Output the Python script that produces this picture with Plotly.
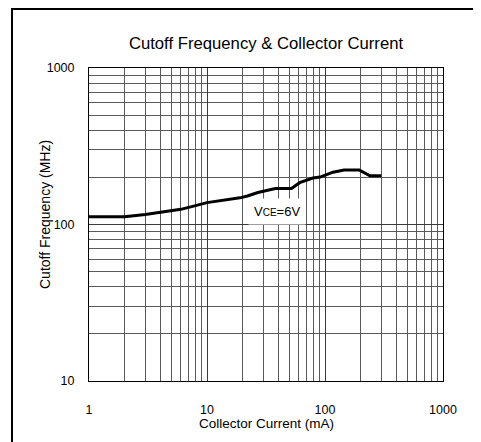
import plotly.graph_objects as go
import math

# Data
collector_current_ma = [1, 2, 3, 5, 6, 8, 10, 19, 22, 27, 38, 52, 61, 79, 91, 117, 145, 195, 240, 300]
cutoff_freq_mhz = [112, 112, 116, 122, 125, 132, 138, 148, 152, 160, 170, 170, 185, 198, 201, 216, 223, 223, 205, 205]

x_tick_vals = [1, 10, 100, 1000]
x_tick_text = ["1", "10", "100", "1000"]
y_tick_vals = [10, 100, 1000]
y_tick_text = ["10", "100", "1000"]

FONT = "Liberation Sans, Arial, sans-serif"
# page body has an 8px default margin; lay out in page pixels and shift
OFF = 8
W, H = 481 - OFF, 442 - OFF
L, R, T, B = 89 - OFF, 38, 68 - OFF, 61
PW, PH = W - L - R, H - T - B

def px2paper_x(px):
    return (px - OFF - L) / PW

def px2paper_y(py):
    return (H - B - (py - OFF)) / PH

fig = go.Figure()
fig.add_trace(go.Scatter(
    x=collector_current_ma, y=cutoff_freq_mhz, mode="lines",
    line=dict(color="black", width=3), showlegend=False, hoverinfo="x+y"))

grid_major = "#3a3a3a"
grid_minor = "#5a5a5a"

fig.update_xaxes(
    type="log", range=[0, 3], tickvals=x_tick_vals, ticktext=x_tick_text,
    showgrid=True, gridcolor=grid_major, gridwidth=1,
    minor=dict(dtick="D1", showgrid=True, gridcolor=grid_minor, gridwidth=1, ticks=""),
    ticks="", showline=True, linecolor="black", linewidth=1, mirror=True,
    tickfont=dict(family=FONT, size=12.5, color="black"), ticklabelstandoff=17,
    automargin=False)
fig.update_yaxes(
    type="log", range=[1, 3], tickvals=y_tick_vals, ticktext=y_tick_text,
    showgrid=True, gridcolor=grid_major, gridwidth=1,
    minor=dict(dtick="D1", showgrid=True, gridcolor=grid_minor, gridwidth=1, ticks=""),
    ticks="", showline=True, linecolor="black", linewidth=1, mirror=True,
    tickfont=dict(family=FONT, size=12.5, color="black"), ticklabelstandoff=11,
    automargin=False)

fig.add_annotation(
    x=math.log10(39), y=2.086, xref="x", yref="y",
    text='V<span style="font-size:10px">CE</span>=6V', showarrow=False,
    font=dict(family=FONT, size=13, color="black"),
    bgcolor="white", borderpad=5)

fig.add_annotation(
    x=px2paper_x(266), y=px2paper_y(423), xref="paper", yref="paper",
    text="Collector Current (mA)", showarrow=False,
    font=dict(family=FONT, size=13.5, color="black"), yanchor="middle")
fig.add_annotation(
    x=px2paper_x(45), y=px2paper_y(215), xref="paper", yref="paper",
    text="Cutoff Frequency (MHz)", showarrow=False, textangle=-90,
    font=dict(family=FONT, size=14, color="black"), xanchor="center", yanchor="middle")

fig.add_shape(
    type="rect", xref="paper", yref="paper",
    x0=px2paper_x(12), y0=px2paper_y(470), x1=px2paper_x(500), y1=px2paper_y(9),
    line=dict(color="black", width=2), fillcolor="rgba(0,0,0,0)", layer="above")

fig.update_layout(
    width=W, height=H, margin=dict(l=L, r=R, t=T, b=B),
    paper_bgcolor="white", plot_bgcolor="white",
    title=dict(text="Cutoff Frequency & Collector Current", x=0.5, xref="paper",
               y=1 - (43 - OFF) / H, yref="container", yanchor="middle",
               font=dict(family=FONT, size=16.7, color="black"),
               automargin=False),
    showlegend=False)

fig.write_html("out.html")
